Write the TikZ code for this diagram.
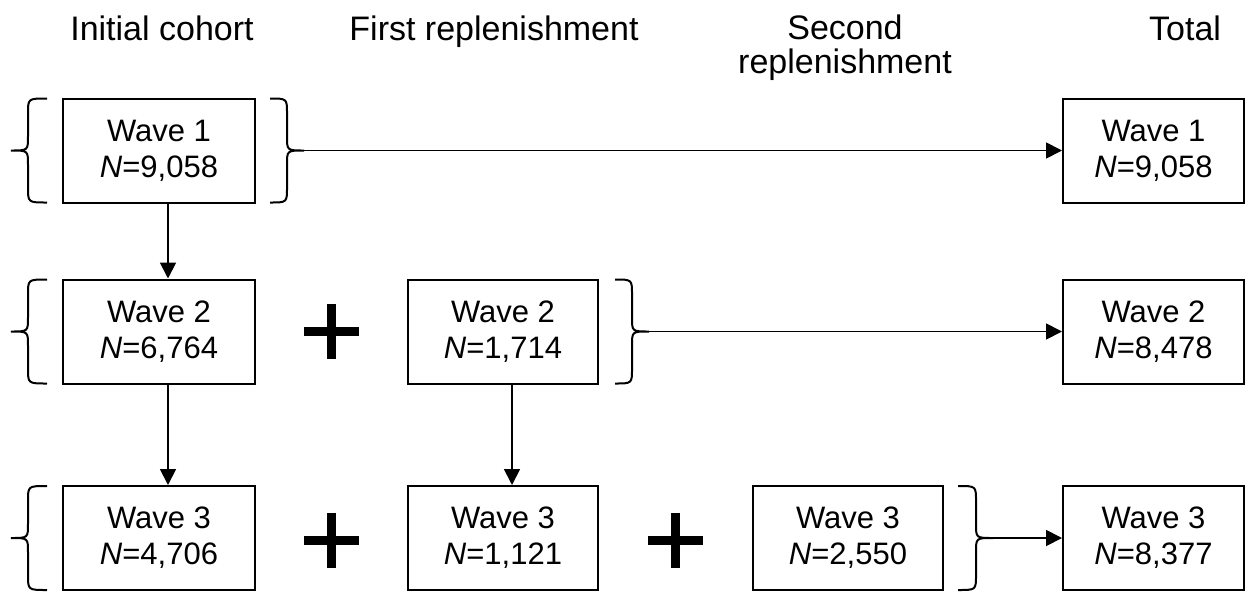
\documentclass[tikz,border=0pt]{standalone}
\usepackage{fontspec}
\setmainfont{Liberation Sans}
\usetikzlibrary{arrows.meta}
\newcommand\mkbrace[6]{%
  % #1 end x, #2 spine x, #3 tip x, #4 top y, #5 bottom y, #6 tip name
  \draw[bracestyle] (#1,#4) .. controls (#2,#4) .. ({#2},{#4+15})
    -- ({#2},{(#4+#5)/2-14}) .. controls ({#2},{(#4+#5)/2}) .. ({#3},{(#4+#5)/2})
    .. controls ({#2},{(#4+#5)/2}) .. ({#2},{(#4+#5)/2+14})
    -- ({#2},{#5-15}) .. controls (#2,#5) .. (#1,#5);
  \coordinate (#6) at ({#3},{(#4+#5)/2});
}
\begin{document}
\begin{tikzpicture}[x=1pt,y=-1pt,
  box/.style={draw,line width=2pt,minimum width=#1,minimum height=104pt,inner sep=0pt,align=center,font=\fontsize{31}{36}\selectfont},
  hdr/.style={align=center,font=\fontsize{34}{34}\selectfont,inner sep=0pt},
  arr/.style={line width=1.8pt,-{Triangle[length=16pt,width=16pt]}},
  bracestyle/.style={line width=2pt},
  plussign/.pic={\draw[line width=9pt] (-27.5,0) -- (27.5,0) (0,-27.5) -- (0,27.5);}
]
\useasboundingbox (0,0) rectangle (1246,592);

% headers
\node[hdr,anchor=base] (h1) at (162,40) {Initial cohort};
\node[hdr,anchor=base] (h2) at (494,40) {First replenishment};
\node[hdr] (h3) at (845,48) {Second\\replenishment};
\node[hdr,anchor=base] (h4) at (1185,40) {Total};

% boxes
\node[box=192pt] (a1) at (159,150.5) {Wave 1\\\textit{N}=9,058};
\node[box=192pt] (a2) at (159,331.5) {Wave 2\\\textit{N}=6,764};
\node[box=192pt] (a3) at (159,538) {Wave 3\\\textit{N}=4,706};
\node[box=190pt] (b2) at (503,331.5) {Wave 2\\\textit{N}=1,714};
\node[box=190pt] (b3) at (503,538) {Wave 3\\\textit{N}=1,121};
\node[box=190pt] (c3) at (848,538) {Wave 3\\\textit{N}=2,550};
\node[box=181pt] (t1) at (1153.5,150.5) {Wave 1\\\textit{N}=9,058};
\node[box=181pt] (t2) at (1153.5,331.5) {Wave 2\\\textit{N}=8,478};
\node[box=181pt] (t3) at (1153.5,538) {Wave 3\\\textit{N}=8,377};

% plus signs
\pic at (331.5,331.5) {plussign};
\pic at (331.5,540) {plussign};
\pic at (675.5,540) {plussign};

% braces
\mkbrace{47}{28}{11}{98.5}{202.5}{l1}
\mkbrace{47}{28}{11}{279.5}{383.5}{l2}
\mkbrace{47}{28}{11}{486}{590}{l3}
\mkbrace{270}{287}{304}{98.5}{202.5}{r1}
\mkbrace{615}{632}{649}{279.5}{383.5}{r2}
\mkbrace{958}{976}{993}{486}{590}{r3}

% arrows
\draw[arr] ([xshift=9pt]a1.south) -- ([xshift=9pt]a2.north);
\draw[arr] ([xshift=9pt]a2.south) -- ([xshift=9pt]a3.north);
\draw[arr] ([xshift=9pt]b2.south) -- ([xshift=9pt]b3.north);
\draw[arr] (r1) -- (r1 -| t1.west);
\draw[arr] (r2) -- (r2 -| t2.west);
\draw[arr] (r3) -- (r3 -| t3.west);
\end{tikzpicture}
\end{document}
